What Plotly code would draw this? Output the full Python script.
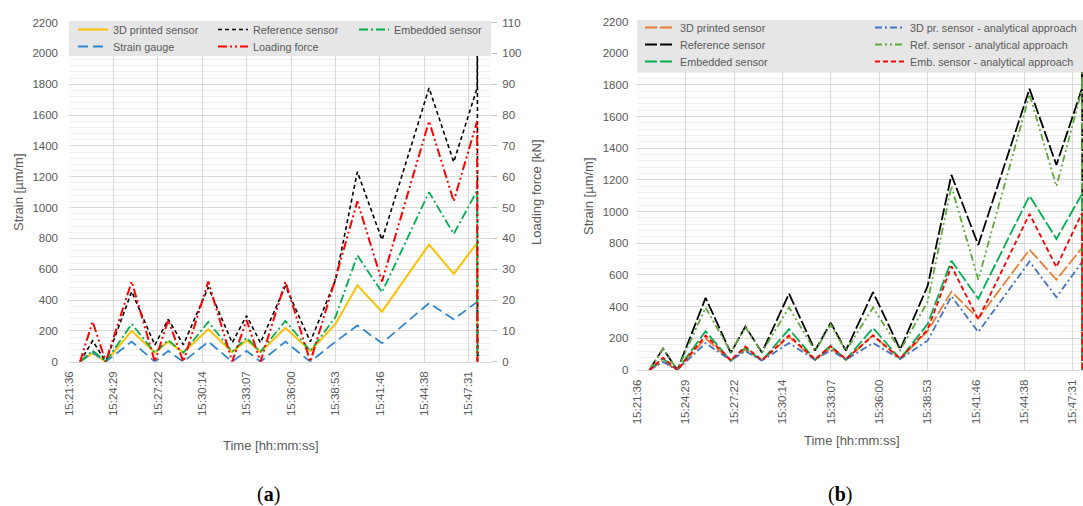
import plotly.graph_objects as go

# ---------------- DATA ----------------
tick_labels = ["15:21:36", "15:24:29", "15:27:22", "15:30:14", "15:33:07",
               "15:36:00", "15:38:53", "15:41:46", "15:44:38", "15:47:31"]

t_main = ["15:22:19", "15:23:08", "15:23:59", "15:25:40", "15:27:10", "15:28:02",
          "15:29:01", "15:30:38", "15:32:11", "15:33:07", "15:34:01", "15:35:38",
          "15:37:15", "15:38:53", "15:40:18", "15:41:54", "15:44:57", "15:46:33",
          "15:48:04"]

# (a) measured strains [µm/m]
printed_3d = [0, 55, 0, 200, 60, 130, 60, 210, 62, 140, 62, 220, 70, 245, 495, 325, 760, 570, 770]
printed_3d_tail_t = ["15:48:05"]
printed_3d_tail = [0]

strain_gauge = [0, 60, 0, 130, 0, 70, 0, 130, 0, 70, 0, 130, 0, 130, 235, 120, 380, 275, 388]
strain_gauge_tail_t = ["15:48:05", "15:48:06", "15:48:12"]
strain_gauge_tail = [100, 45, 38]

reference = [0, 135, 0, 455, 108, 275, 110, 482, 123, 298, 123, 491, 130, 530, 1232, 790, 1775, 1295, 1775]
reference_tail_t = ["15:48:05", "15:48:06"]
reference_tail = [2150, 0]

embedded = [0, 72, 0, 245, 58, 140, 58, 258, 65, 155, 65, 265, 70, 290, 690, 450, 1100, 828, 1110]
embedded_tail_t = ["15:48:05"]
embedded_tail = [0]

# (a) loading force [kN]
force = [0, 13, 0, 26, 0, 13.5, 0, 26, 0, 13.5, 0, 26, 0, 27, 52, 26, 78, 52, 78]
force_tail_t = ["15:48:05"]
force_tail = [0]

# (b) analytical approach [µm/m]
printed_3d_an = [0, 50, 0, 170, 60, 120, 60, 170, 65, 125, 65, 170, 70, 185, 465, 240, 685, 460, 680]
reference_an = [0, 135, 0, 395, 112, 270, 112, 395, 120, 285, 120, 395, 125, 430, 1160, 570, 1740, 1160, 1770]
embedded_an = [0, 78, 0, 218, 62, 148, 62, 218, 68, 150, 68, 218, 72, 255, 655, 320, 985, 650, 990]
an_tail_t = ["15:48:05", "15:48:06"]
printed_3d_an_tail = [0, 0]
reference_an_tail = [2000, 0]
embedded_an_tail = [0, 0]

# ---------------- helpers ----------------
def sec(s):
    h, m, ss = s.split(":")
    return int(h) * 3600 + int(m) * 60 + int(ss)

T0 = sec(tick_labels[0])
tick_vals = [T0 + i * 172.8 for i in range(len(tick_labels))]

def xs(times):
    return [sec(t) for t in times]

W, H = 1083, 506
def px(x): return x / W
def py(y): return 1 - y / H

fig = go.Figure()

FONT = "Liberation Sans, Arial, sans-serif"
GREY = "#595959"
LEG_FS = 10.8

legend_layouts = {}

def add(name, times, vals, color, dash, width, xaxis, yaxis, legend, text_x, text_y):
    fig.add_trace(go.Scatter(
        x=xs(times), y=vals, name=name, mode="lines",
        line=dict(color=color, dash=dash, width=width),
        xaxis=xaxis, yaxis=yaxis, legend=legend, showlegend=True))
    legend_layouts[legend] = dict(
        x=px(text_x - 40), y=py(text_y - 15), xanchor="left", yanchor="top",
        orientation="v", bgcolor="rgba(0,0,0,0)", borderwidth=0,
        font=dict(family=FONT, size=LEG_FS, color=GREY))

# ----- panel (a) -----
add("3D printed sensor", t_main + printed_3d_tail_t, printed_3d + printed_3d_tail,
    "#FFC000", "solid", 2, "x", "y", "legend", 113, 30)
add("Strain gauge", t_main + strain_gauge_tail_t, strain_gauge + strain_gauge_tail,
    "#2E86D1", "10px,5px", 1.8, "x", "y", "legend2", 113, 47)
add("Reference sensor", t_main + reference_tail_t, reference + reference_tail,
    "#000000", "4px,3px", 1.6, "x", "y", "legend3", 253, 30)
add("Loading force", t_main + force_tail_t, force + force_tail,
    "#FF0000", "9px,3px,2px,3px,2px,3px", 2, "x", "y2", "legend4", 253, 47)
add("Embedded sensor", t_main + embedded_tail_t, embedded + embedded_tail,
    "#00B050", "9px,3px,2px,3px", 1.8, "x", "y", "legend5", 394, 30)

# ----- panel (b) -----
add("3D printed sensor", t_main + printed_3d_tail_t, printed_3d + printed_3d_tail,
    "#ED7D31", "12px,3px", 1.8, "x2", "y3", "legend6", 680, 28)
add("Reference sensor", t_main + reference_tail_t, reference + reference_tail,
    "#000000", "12px,3px", 1.8, "x2", "y3", "legend7", 680, 45)
add("Embedded sensor", t_main + embedded_tail_t, embedded + embedded_tail,
    "#00B050", "12px,3px", 1.8, "x2", "y3", "legend8", 680, 62)
add("3D pr. sensor - analytical approach", t_main + an_tail_t, printed_3d_an + printed_3d_an_tail,
    "#4472C4", "7px,3px,2px,3px", 1.8, "x2", "y3", "legend9", 910, 28)
add("Ref. sensor - analytical approach", t_main + an_tail_t, reference_an + reference_an_tail,
    "#5FA83A", "7px,3px,2px,3px,2px,3px", 1.8, "x2", "y3", "legend10", 910, 45)
add("Emb. sensor - analytical approach", t_main + an_tail_t, embedded_an + embedded_an_tail,
    "#FF0000", "5px,3px", 1.8, "x2", "y3", "legend11", 910, 62)

xcommon = dict(tickmode="array", tickvals=tick_vals, ticktext=tick_labels, tickangle=-90,
               showgrid=True, gridcolor="#D9D9D9", gridwidth=1, showline=True,
               linecolor="#D9D9D9", zeroline=False, ticks="", automargin=False,
               ticklabelstandoff=4,
               tickfont=dict(family=FONT, size=11.5, color=GREY))
ycommon = dict(range=[0, 2200], dtick=200, showgrid=True, gridcolor="#D9D9D9", gridwidth=1,
               zeroline=False, showline=False, ticks="", automargin=False,
               tickfont=dict(family=FONT, size=11.5, color=GREY),
               minor=dict(dtick=40, showgrid=True, gridcolor="#EFEFEF", gridwidth=1))

def ann(text, x, y, angle=0, size=13, family=FONT, color=GREY):
    return dict(text=text, x=px(x), y=py(y), xref="paper", yref="paper",
                xanchor="center", yanchor="middle", textangle=angle, showarrow=False,
                font=dict(family=family, size=size, color=color))

SERIF = "Liberation Serif, DejaVu Serif, serif"

fig.update_layout(
    width=W, height=H, margin=dict(l=0, r=0, t=0, b=0, autoexpand=False),
    paper_bgcolor="white", plot_bgcolor="white",
    font=dict(family=FONT, color=GREY),
    xaxis=dict(domain=[px(69), px(491)], range=[T0, T0 + 1642], anchor="y", **xcommon),
    yaxis=dict(domain=[py(361.7), py(22.5)], anchor="x", ticklabelstandoff=10, **ycommon),
    yaxis2=dict(range=[0, 110], dtick=10, overlaying="y", side="right", anchor="x",
                showgrid=False, zeroline=False, ticks="outside", ticklen=5, automargin=False,
                ticklabelstandoff=3,
                tickcolor="#BFBFBF", tickfont=dict(family=FONT, size=11.5, color=GREY)),
    xaxis2=dict(domain=[px(637.3), 1.0], range=[T0, T0 + 1592], anchor="y3", **xcommon),
    yaxis3=dict(domain=[py(370), py(21.6)], anchor="x2", ticklabelstandoff=8, **ycommon),
    shapes=[
        dict(type="rect", xref="paper", yref="paper", x0=px(69), x1=px(491),
             y0=py(56), y1=py(21), fillcolor="#E6E6E6", line=dict(width=0), layer="above"),
        dict(type="rect", xref="paper", yref="paper", x0=px(637.3), x1=1.0,
             y0=py(72), y1=py(20), fillcolor="#E6E6E6", line=dict(width=0), layer="above"),
    ],
    annotations=[
        ann("Strain [µm/m]", 18, 192, angle=-90),
        ann("Loading force [kN]", 536, 192, angle=-90),
        ann("Time [hh:mm:ss]", 271, 445),
        ann("Strain [µm/m]", 588, 196, angle=-90),
        ann("Time [hh:mm:ss]", 852, 440),
        ann("(<b>a</b>)", 268, 494, size=20, family=SERIF, color="#000000"),
        ann("(<b>b</b>)", 840, 494, size=20, family=SERIF, color="#000000"),
    ],
)
fig.update_layout(**legend_layouts)

fig.write_html("out.html", config={"displayModeBar": False},
               post_script="document.body.style.margin='0';document.body.style.padding='0';"
                           "document.documentElement.style.overflow='hidden';")
